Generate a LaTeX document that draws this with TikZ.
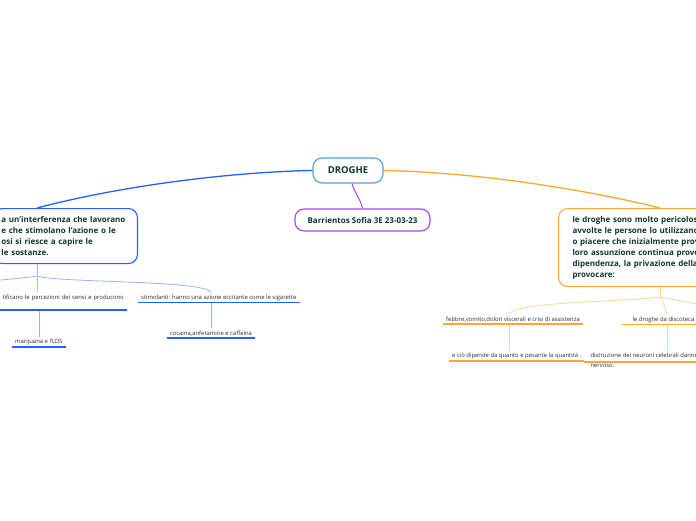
\documentclass[tikz,border=0pt]{standalone}
\usepackage{fontspec}
\setmainfont{Open Sans}
\usetikzlibrary{positioning, calc}
\definecolor{mapText}{RGB}{16,54,46}
\definecolor{smallText}{RGB}{45,45,45}
\definecolor{rootBlue}{RGB}{80,160,220}
\definecolor{leftBlue}{RGB}{35,95,250}
\definecolor{leftThin}{RGB}{150,180,250}
\definecolor{nameViolet}{RGB}{170,70,240}
\definecolor{rightOrange}{RGB}{255,168,45}
\definecolor{rightThin}{RGB}{255,210,150}
\tikzset{
	mapbox/.style={rectangle, rounded corners=9pt, fill=white, line width=1.1pt,
		font=\fontsize{8}{11}\selectfont\bfseries, text=mapText, align=left},
	subtopic/.style={font=\fontsize{5.9}{9.5}\selectfont, text=smallText,
		inner xsep=3pt, inner ysep=2pt, align=left},
	bluearc/.style={draw=leftBlue, line width=1.3pt},
	orangearc/.style={draw=rightOrange, line width=1.3pt},
	bluethin/.style={draw=leftThin, line width=0.8pt},
	orangethin/.style={draw=rightThin, line width=0.8pt},
	blueunder/.style={draw=leftBlue, line width=1.6pt},
	orangeunder/.style={draw=rightOrange, line width=1.6pt}
}
\begin{document}
\begin{tikzpicture}[x=1pt, y=-1pt]
	\useasboundingbox (0,0) rectangle (696,520);
	\fill[white] (0,0) rectangle (696,520);
	\clip (0,0) rectangle (696,520);
	% centre and first level
	\node[mapbox, draw=rootBlue, minimum width=70pt, minimum height=25pt, align=center,
		font=\fontsize{9.5}{11}\selectfont\bfseries] (droghe) at (348,170.5) {DROGHE};
	\node[mapbox, draw=nameViolet, minimum width=135pt, minimum height=22pt, align=center] (autore) at (362.5,220) {Barrientos Sofia 3E 23-03-23};
	\node[mapbox, draw=leftBlue, anchor=north east, inner xsep=8pt, text width=128pt, minimum height=55pt] (tipi) at (138,208)
		{a un'interferenza che lavorano\\e che stimolano l'azione o le\\osi si riesce a capire le\\le sostanze.};
	\node[mapbox, draw=rightOrange, anchor=north west, inner xsep=14pt, text width=200pt, minimum height=78pt] (pericolo) at (558,208)
		{le droghe sono molto pericolose\\avvolte le persone lo utilizzano\\o piacere che inizialmente prov\\loro assunzione continua provo\\dipendenza, la privazione della\\provocare:};
	% second level
	\node[subtopic, anchor=base east, text depth=9pt, text width=130pt, align=right] (percez) at (127,299) {tificano le percezioni dei sensi e producono};
	\node[subtopic, anchor=base west] (stimol) at (138,299) {stimolanti: hanno una azione eccitante come le sigarette};
	\node[subtopic, anchor=base west] (mari) at (12,343.5) {marijuana e l'LDS};
	\node[subtopic, anchor=base] (coca) at (211,335) {cocaina,anfetamine e caffeina};
	\node[subtopic, anchor=base west] (febbre) at (443,321) {febbre,vomito,dolori viscerali e crisi di assistenza};
	\node[subtopic, anchor=base west, minimum width=90pt] (disco) at (622,321) {le droghe da discoteca pr};
	\node[subtopic, anchor=base west] (quanto) at (449,357.5) {e ciò dipende da quanto e pesante la quantità .};
	\node[subtopic, anchor=north west, minimum width=120pt] (neuroni) at (584,351) {distruzione dei neuroni celebrali danne\\nervoso.};
	\coordinate (bl) at (37,276);
	\coordinate (br) at (660,297);
	\coordinate (altrol) at (-30,283);
	\coordinate (altror) at (730,312);
	\path (neuroni.north west) ++(83,0) coordinate (dn);
	\path (quanto.north west) ++(60,0) coordinate (dq);
	% connectors
	\draw[bluearc] (droghe.west) .. controls (230,172) and (120,186) .. (tipi.north -| bl);
	\draw[orangearc] (droghe.east) .. controls (470,172) and (580,188) .. (pericolo.north -| br);
	\draw[draw=nameViolet, line width=1pt] ([xshift=4pt]droghe.south) .. controls (356,196) and (361,200) .. (autore.north);
	\draw[bluethin] (tipi.south -| bl) -- (bl);
	\draw[bluethin] (bl) .. controls (38,282) .. (percez.north -| bl);
	\draw[bluethin] (bl) .. controls (25,278) and (10,279) .. (altrol);
	\draw[bluethin] (bl) .. controls (60,283) and (205,280) .. (stimol.north -| coca);
	\draw[bluethin] (percez.south -| mari) -- (mari.north);
	\draw[bluethin] (stimol.south -| coca) -- (coca.north);
	\draw[orangethin] (pericolo.south -| br) -- (br);
	\draw[orangethin] (br) .. controls (630,302) and (515,301) .. (febbre.north -| dq);
	\draw[orangethin] (br) .. controls (664,304) .. (disco.north -| dn);
	\draw[orangethin] (br) .. controls (680,301) and (700,304) .. (altror);
	\draw[orangethin] (febbre.south -| dq) -- (dq);
	\draw[orangethin] (disco.south -| dn) -- (dn);
	% underlines
	\foreach \n in {percez, stimol, mari, coca}
		\draw[blueunder] (\n.south west) -- (\n.south east);
	\foreach \n in {febbre, disco, quanto}
		\draw[orangeunder] (\n.south west) -- (\n.south east);
	\draw[orangeunder] ([yshift=-11pt]neuroni.north west) -- ([yshift=-11pt]neuroni.north east);
\end{tikzpicture}
\end{document}
